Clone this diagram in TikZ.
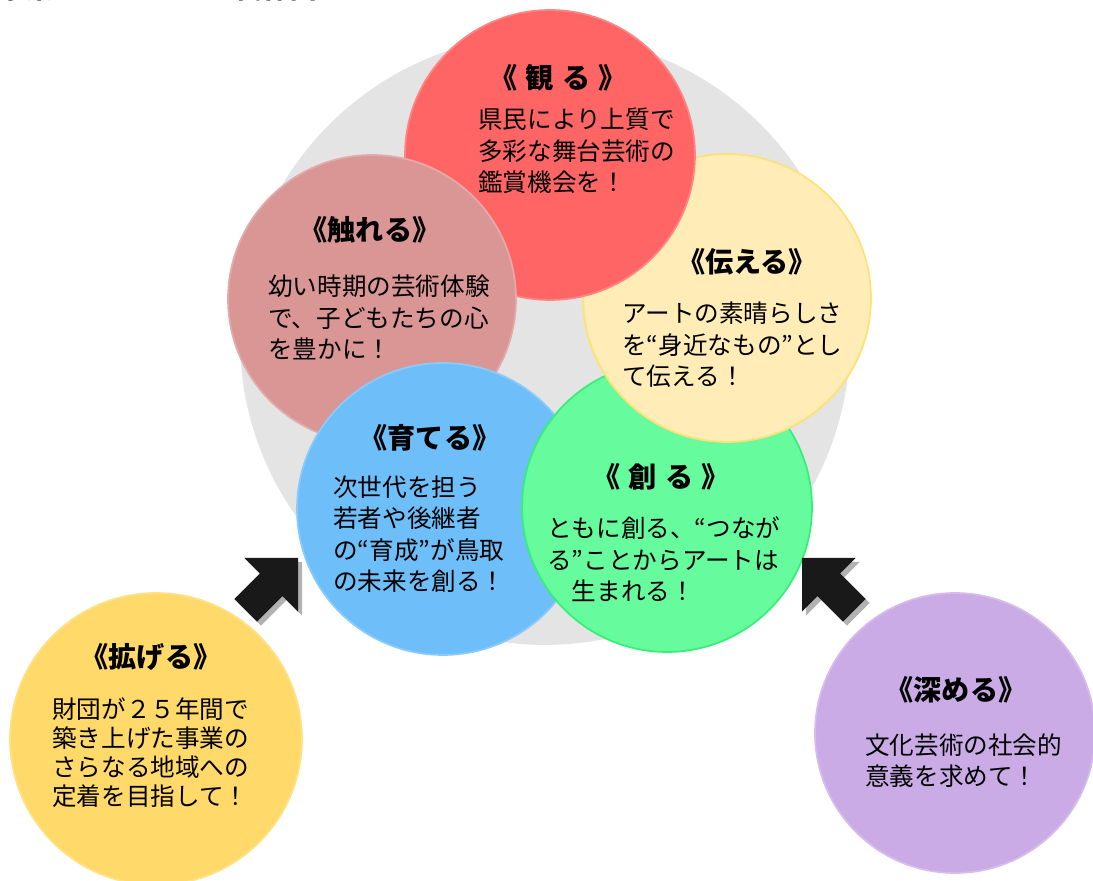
\documentclass[tikz,border=0pt]{standalone}
\usepackage{fontspec}
\newfontfamily\jpfont{Noto Sans CJK JP}
\definecolor{bggray}{HTML}{E4E4E4}
\definecolor{miru}{HTML}{FF6565}
\definecolor{fureru}{HTML}{DA9694}
\definecolor{tsutaeru}{HTML}{FFECB6}
\definecolor{tsutaeruline}{HTML}{FDE278}
\definecolor{sodateru}{HTML}{6DBEF9}
\definecolor{tsukuru}{HTML}{66FC9E}
\definecolor{tsukuruline}{HTML}{36EE78}
\definecolor{hirogeru}{HTML}{FFD96A}
\definecolor{fukameru}{HTML}{CAABE6}
\begin{document}
\begin{tikzpicture}[x=0.02cm, y=-0.02cm,
	circ/.style={circle, inner sep=0pt, line width=1pt},
	title/.style={font=\jpfont\bfseries\fontsize{16pt}{19pt}\selectfont, inner sep=0pt},
	body/.style={font=\jpfont\fontsize{14pt}{18pt}\selectfont, align=left, anchor=base west, inner sep=0pt}]
	\useasboundingbox (0,0) rectangle (1093,881);
	\clip (0,0) rectangle (1093,881);
	\node[title, anchor=base west, font=\jpfont\bfseries\fontsize{15pt}{18pt}\selectfont] (Heading) at (0,-1) {事業のキーワードの関係図};
	% Circles
	\node[circ, fill=bggray, minimum size=12.2cm] (Base) at (545,340) {};
	\node[circ, fill=tsutaeru, draw=tsutaeruline, minimum size=5.76cm] (Tsutaeru) at (727,298) {};
	\node[circ, fill=miru, draw=miru!80!white, minimum size=5.8cm] (Miru) at (550,155) {};
	\node[circ, fill=fureru, draw=fureru!80!white, minimum size=5.76cm] (Fureru) at (372,299) {};
	\node[circ, fill=sodateru, draw=sodateru!80!white, minimum size=5.84cm] (Sodateru) at (443,509) {};
	\node[circ, fill=tsukuru, draw=tsukuruline, minimum size=5.8cm] (Tsukuru) at (667,507) {};
	\begin{scope}
		\clip (560,320) rectangle (900,460);
		\node[circ, fill=tsutaeru, draw=tsutaeruline, minimum size=5.76cm] (Tsutaeru top) at (727,298) {};
	\end{scope}
	\node[circ, fill=hirogeru, draw=hirogeru!80!white, minimum size=5.84cm] (Hirogeru) at (156,739) {};
	\node[circ, fill=fukameru, draw=fukameru!80!white, minimum size=5.6cm] (Fukameru) at (955,733) {};
	% Arrows
	\foreach \tipx/\ang in {298/45, 802/135} {
		\fill[black!30, shift={(\tipx+4,562)}, rotate=\ang] (0,0) -- (-38,38) -- (-38,16) -- (-74,16) -- (-74,-16) -- (-38,-16) -- (-38,-38) -- cycle;
		\fill[black!90, shift={(\tipx,558)}, rotate=\ang] (0,0) -- (-38,38) -- (-38,16) -- (-74,16) -- (-74,-16) -- (-38,-16) -- (-38,-38) -- cycle;
	}
	% Texts (base = last line)
	\node[title] (Miru title) at (558,78) {《\hspace{0.3em}観\hspace{0.3em}る\hspace{0.3em}》};
	\node[body] (Miru text) at (478,192) {県民により上質で\\多彩な舞台芸術の\\鑑賞機会を！};
	\node[title] (Fureru title) at (370,230) {《触れる》};
	\node[body] (Fureru text) at (268,359) {幼い時期の芸術体験\\で、子どもたちの心\\を豊かに！};
	\node[title] (Tsutaeru title) at (747,262) {《伝える》};
	\node[body] (Tsutaeru text) at (622,386) {アートの素晴らしさ\\を“身近なもの”とし\\て伝える！};
	\node[title] (Sodateru title) at (430,438) {《育てる》};
	\node[body] (Sodateru text) at (333,591) {次世代を担う\\若者や後継者\\の“育成”が鳥取\\の未来を創る！};
	\node[title] (Tsukuru title) at (661,477) {《\hspace{0.3em}創\hspace{0.3em}る\hspace{0.3em}》};
	\node[body] (Tsukuru text) at (547,601) {ともに創る、“つなが\\る”ことからアートは\\\hspace*{1em}生まれる！};
	\node[title] (Hirogeru title) at (151,657) {《拡げる》};
	\node[body, font=\jpfont\fontsize{14pt}{16.6pt}\selectfont] (Hirogeru text) at (52,806) {財団が２５年間で\\築き上げた事業の\\さらなる地域への\\定着を目指して！};
	\node[title] (Fukameru title) at (956,690) {《深める》};
	\node[body] (Fukameru text) at (865,786) {文化芸術の社会的\\意義を求めて！};
\end{tikzpicture}
\end{document}
